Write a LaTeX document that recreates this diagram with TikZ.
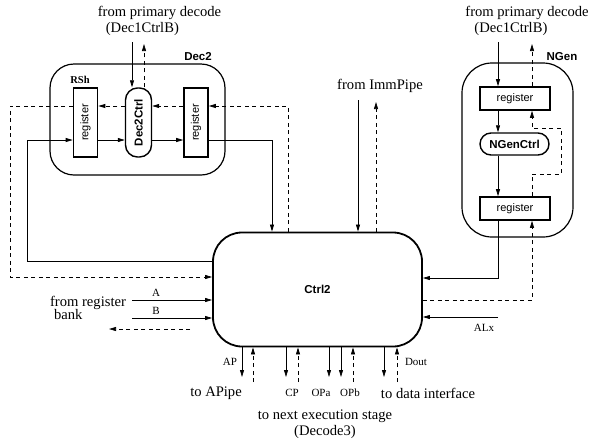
\documentclass[tikz,border=0pt]{standalone}
\usepackage{fontspec}
\setmainfont{Liberation Serif}
\setsansfont{Liberation Sans}
\usepackage{graphicx}
\usetikzlibrary{arrows.meta}

\tikzset{
unit/.style={draw, line width=1.2pt, rounded corners=24pt},
reg/.style={draw, line width=1.6pt, inner sep=0pt, font=\fontsize{11}{12}\sffamily},
ctl/.style={draw, line width=1.4pt, rounded corners=11pt, inner sep=0pt,
  font=\fontsize{11.5}{12}\sffamily\bfseries},
sig/.style={line width=0.75pt, -{Triangle[length=7pt,width=4pt]}},
ack/.style={sig, dash pattern=on 4pt off 3.5pt},
big/.style={font=\fontsize{14.6}{16}\selectfont},
small/.style={font=\fontsize{11}{12}\selectfont},
hdr/.style={font=\fontsize{11.5}{12}\sffamily\bfseries}
}

\begin{document}
\begin{tikzpicture}[x=1pt,y=-1pt]
\useasboundingbox (0,0) rectangle (593,440);

% the three units
\node [unit, minimum width=175pt, minimum height=111pt] (dec) at (137.5,119.5) {};
\node [unit, rounded corners=30pt, minimum width=111pt, minimum height=174pt] (ngen) at (517.5,150) {};
\node [unit, line width=1.8pt, rounded corners=29pt, minimum width=209pt, minimum height=114pt,
  hdr] (ctrl) at (317.5,289.5) {Ctrl2};
\node [hdr] (decl) at (198,57) {Dec2};
\node [hdr] (ngenl) at (562,57) {NGen};
\node [font=\fontsize{10.5}{12}\bfseries] (rshl) at (80,80) {RSh};

% Dec2 internals
\node [reg, minimum width=24pt, minimum height=69pt] (rsh) at (85.5,122.5) {\rotatebox{90}{register}};
\node [ctl, rounded corners=12pt, minimum width=26pt, minimum height=69pt] (dctl) at (138.5,122.5) {\rotatebox{90}{Dec2Ctrl}};
\node [reg, minimum width=24pt, minimum height=69pt] (rdec) at (196,122.5) {\rotatebox{90}{register}};

% NGen internals
\node [reg, minimum width=70pt, minimum height=23pt] (ntop) at (515,98.5) {register};
\node [ctl, minimum width=69pt, minimum height=22pt] (nctl) at (514.5,144) {NGenCtrl};
\node [reg, minimum width=70pt, minimum height=23pt] (nbot) at (515,208.5) {register};

% texts
\node [big, align=left] (dsrc) at (159.5,21) {from primary decode\\\hspace{8pt}(Dec1CtrlB)};
\node [big, align=left] (nsrc) at (527,21) {from primary decode\\\hspace{9pt}(Dec1CtrlB)};
\node [big] (imm) at (380,86) {from ImmPipe};
\node [big, align=left] (bank) at (88,308) {from register\\[-3pt]\hspace{4pt}bank};
\node [big] (apipe) at (216,393) {to APipe};
\node [big] (dint) at (428,393) {to data interface};
\node [big, align=center] (nxt) at (325,424) {to next execution stage\\(Decode3)};
\node [small] (apl) at (230,362) {AP};
\node [small] (cpl) at (292,393) {CP};
\node [small] (opal) at (321,393) {OPa};
\node [small] (opbl) at (350,393) {OPb};
\node [small] (doutl) at (416,362) {Dout};
\node [small] (alxl) at (484,328) {ALx};

% into Dec2
\coordinate (din) at (132,42);
\coordinate (dout) at (144,44);
\draw [sig] (din) -- (dctl.north -| din);
\draw [ack] (dctl.north -| dout) -- (dout);

% solid ring through Dec2
\coordinate (flb) at (27,261);
\coordinate (flt) at (27,140);
\coordinate (frt) at (272,140);
\draw [sig] (ctrl.west |- flb) -- (flb) -- (flt) -- (rsh.west |- flt);
\draw [sig] (rsh.east |- flt) -- (dctl.west |- flt);
\draw [sig] (dctl.east |- flt) -- (rdec.west |- flt);
\draw [sig] (rdec.east |- flt) -- (frt) -- (ctrl.north -| frt);

% dashed ring back through Dec2
\coordinate (drt) at (288,106);
\coordinate (dlt) at (10,106);
\coordinate (dlb) at (10,277);
\draw [ack] (ctrl.north -| drt) -- (drt) -- (rdec.east |- drt);
\draw [ack] (rdec.west |- drt) -- (dctl.east |- drt);
\draw [ack] (dctl.west |- drt) -- (rsh.east |- drt);
\draw [ack] (rsh.west |- drt) -- (dlt) -- (dlb) -- (ctrl.west |- dlb);

% ImmPipe
\coordinate (imin) at (358,100);
\coordinate (imout) at (376,102);
\draw [sig] (imin) -- (ctrl.north -| imin);
\draw [ack] (ctrl.north -| imout) -- (imout);

% NGen
\coordinate (nin) at (498,42);
\coordinate (nout) at (532,44);
\coordinate (nrb) at (561,174);
\coordinate (nrt) at (561,128);
\draw [sig] (nin) -- (ntop.north -| nin);
\draw [ack] (ntop.north -| nout) -- (nout);
\draw [sig] (ntop.south -| nin) -- (nctl.north -| nin);
\draw [sig] (nctl.south -| nin) -- (nbot.north -| nin);
\draw [ack] (nbot.north -| nout) -- (nout |- nrb) -- (nrb) -- (nrt) -- (nout |- nrt) -- (ntop.south -| nout);
\coordinate (nret) at (498,278);
\coordinate (nack) at (532,300);
\coordinate (alx) at (498,317);
\draw [sig] (nbot.south -| nret) -- (nret) -- (ctrl.east |- nret);
\draw [ack] (ctrl.east |- nack) -- (nack) -- (nbot.south -| nack);
\draw [sig] (alx) -- (ctrl.east |- alx);

% register bank
\coordinate (ra) at (132,300);
\coordinate (rb) at (132,318);
\coordinate (rbk) at (190,329);
\coordinate (rbt) at (109,329);
\draw [sig] (ra) -- (ctrl.west |- ra) node [small, pos=0.3, above] (al) {A};
\draw [sig] (rb) -- (ctrl.west |- rb) node [small, pos=0.3, above] (bl) {B};
\draw [ack] (rbk) -- (rbt);

% outputs below Ctrl2
\foreach \x [count=\i] in {242,286,329,341,384} {
  \coordinate (bo\i) at (\x,377);
  \draw [sig] (ctrl.south -| bo\i) -- (bo\i);
}
\foreach \x [count=\i] in {253,298,353,397} {
  \coordinate (bi\i) at (\x,382);
  \draw [ack] (bi\i) -- (ctrl.south -| bi\i);
}
\end{tikzpicture}
\end{document}
